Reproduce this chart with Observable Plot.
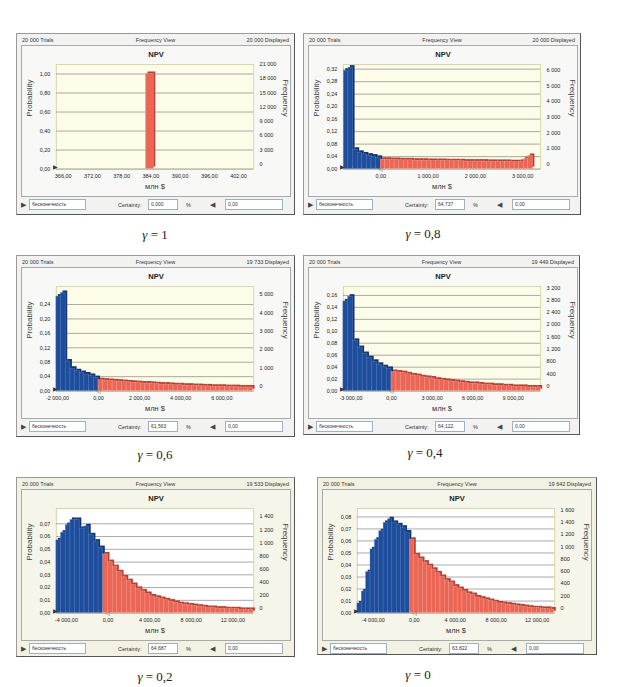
<!DOCTYPE html>
<html><head><meta charset="utf-8">
<script src="https://cdn.jsdelivr.net/npm/d3@7"></script>
<script src="https://cdn.jsdelivr.net/npm/@observablehq/plot@0.6"></script>
<style>
body{margin:0;background:#fff;width:629px;height:687px;position:relative;overflow:hidden;font-family:"Liberation Sans",Arial,sans-serif;}
.panel{position:absolute;background:#f2f2f0;border:1px solid #9a9a9a;border-right-color:#555;border-bottom-color:#555;box-sizing:border-box;}
.hdr{position:absolute;top:3px;font-size:5.5px;color:#333;white-space:nowrap;line-height:6px;}
.inner{position:absolute;left:4px;top:11px;width:270px;height:152px;border:1px solid #a9a9a9;background:#f8f8f6;box-sizing:border-box;}
.npv{position:absolute;left:0;right:0;top:5px;text-align:center;font-weight:bold;font-size:7.5px;color:#222;line-height:8px;}
.plot{position:absolute;left:0;top:14px;}
.row{position:absolute;font-size:5.5px;color:#333;white-space:nowrap;line-height:10px;top:166px;}
.box{position:absolute;top:165px;height:11px;border:1px solid #9db0c4;background:#fff;box-sizing:border-box;font-size:5px;line-height:9px;padding-left:2px;color:#333;}
.cap{position:absolute;transform:translate(-50%,-50%);font-family:"Liberation Serif","DejaVu Serif",serif;font-size:13px;color:#222;white-space:nowrap;}
.cap i{font-style:italic;}
</style></head>
<body>
<script>
// ---- data ----
const gammaLabels = ["1", "0,8", "0,6", "0,4", "0,2", "0"];
const trials = [20000, 20000, 20000, 20000, 20000, 20000];
const displayed = [20000, 20000, 19733, 19449, 19533, 19642];
const certainty = ["0,000", "64,737", "61,563", "64,122", "64,687", "63,822"];
const leftBound = "бесконечность";
const rightBound = "0,00";

const binStart = [383.0, -780, -2052, -3560, -4960, -5550];
const binWidth = [1.6, 97.5, 228, 356, 451, 427];

const probsG10 = [1.0];
const probsG08 = [0.315, 0.325, 0.062, 0.052, 0.047, 0.043, 0.040, 0.036,
  0.030, 0.030, 0.029, 0.029, 0.028, 0.028, 0.028, 0.027, 0.027, 0.027, 0.026, 0.026, 0.026, 0.026,
  0.025, 0.025, 0.025, 0.025, 0.024, 0.024, 0.024, 0.024, 0.024, 0.023, 0.023, 0.023, 0.023, 0.023,
  0.022, 0.022, 0.023, 0.032, 0.042];
const probsG06 = [0.262, 0.272, 0.082, 0.062, 0.055, 0.050, 0.046, 0.042, 0.036,
  0.030, 0.029, 0.028, 0.027, 0.026, 0.025, 0.024, 0.023, 0.022, 0.021, 0.021, 0.020, 0.019, 0.018,
  0.018, 0.017, 0.016, 0.016, 0.015, 0.015, 0.014, 0.014, 0.013, 0.013, 0.012, 0.012, 0.012, 0.011,
  0.011, 0.011, 0.010, 0.010, 0.010];
const probsG04 = [0.150, 0.158, 0.084, 0.072, 0.062, 0.055, 0.049, 0.044, 0.040, 0.037,
  0.032, 0.031, 0.030, 0.028, 0.026, 0.025, 0.023, 0.022, 0.021, 0.019, 0.018, 0.017, 0.016, 0.015,
  0.014, 0.013, 0.012, 0.012, 0.011, 0.010, 0.010, 0.009, 0.009, 0.008, 0.008, 0.007, 0.007, 0.007,
  0.006, 0.006, 0.006];
const probsG02 = [0.057, 0.063, 0.069, 0.073, 0.073, 0.066, 0.068, 0.061, 0.056, 0.051, 0.046,
  0.040, 0.036, 0.032, 0.028, 0.025, 0.022, 0.019, 0.017, 0.015, 0.013, 0.012, 0.011, 0.010, 0.009,
  0.008, 0.007, 0.0065, 0.006, 0.0055, 0.005, 0.0045, 0.004, 0.004, 0.0035, 0.0035, 0.003, 0.003,
  0.003, 0.0025, 0.0025, 0.0025];
const probsG00 = [0.008, 0.018, 0.034, 0.053, 0.061, 0.068, 0.075, 0.078, 0.075, 0.073, 0.071, 0.067, 0.061,
  0.048, 0.045, 0.042, 0.039, 0.036, 0.033, 0.030, 0.027, 0.025, 0.022, 0.020, 0.018, 0.016, 0.015,
  0.013, 0.012, 0.011, 0.010, 0.009, 0.008, 0.0075, 0.007, 0.0065, 0.006, 0.0055, 0.005, 0.0045,
  0.004, 0.004, 0.0035, 0.0035, 0.003];
const probs = [probsG10, probsG08, probsG06, probsG04, probsG02, probsG00];

const xTicks = [
  [366, 372, 378, 384, 390, 396, 402],
  [0, 1000, 2000, 3000],
  [-2000, 0, 2000, 4000, 6000],
  [-3000, 0, 3000, 6000, 9000],
  [-4000, 0, 4000, 8000, 12000],
  [-4000, 0, 4000, 8000, 12000]
];
const probTicks = [
  [0, 0.2, 0.4, 0.6, 0.8, 1.0],
  [0, 0.04, 0.08, 0.12, 0.16, 0.20, 0.24, 0.28, 0.32],
  [0, 0.04, 0.08, 0.12, 0.16, 0.20, 0.24],
  [0, 0.02, 0.04, 0.06, 0.08, 0.10, 0.12, 0.14, 0.16],
  [0, 0.01, 0.02, 0.03, 0.04, 0.05, 0.06, 0.07],
  [0, 0.01, 0.02, 0.03, 0.04, 0.05, 0.06, 0.07, 0.08]
];
const freqTicks = [
  [0, 3000, 6000, 9000, 12000, 15000, 18000, 21000],
  [0, 1000, 2000, 3000, 4000, 5000, 6000],
  [0, 1000, 2000, 3000, 4000, 5000],
  [0, 400, 800, 1200, 1600, 2000, 2400, 2800, 3200],
  [0, 200, 400, 600, 800, 1000, 1200, 1400],
  [0, 200, 400, 600, 800, 1000, 1200, 1400, 1600]
];
const xDomains = [[364.6, 405.1], [-790, 3380], [-2052, 7550], [-3560, 11030], [-4960, 14000], [-5550, 13700]];
const yMax = [1.1, 0.335, 0.29, 0.175, 0.082, 0.087];

// ---- layout ----
const layout = [
  {left: 16, top: 33, w: 279, h: 182, cx: 155, cy: 235, tint: false},
  {left: 303, top: 33, w: 278, h: 182, cx: 423, cy: 234, tint: false},
  {left: 16, top: 255, w: 279, h: 182, cx: 155, cy: 455, tint: false},
  {left: 303, top: 255, w: 277, h: 180, cx: 425, cy: 453, tint: false},
  {left: 16, top: 477, w: 279, h: 180, cx: 155, cy: 677, tint: true},
  {left: 317, top: 477, w: 280, h: 178, cx: 418, cy: 675, tint: true}
];

const ru = d3.formatLocale({decimal: ",", thousands: "\u00a0", grouping: [3], currency: ["", ""], minus: "-"});
const fmtX = ru.format(",.2f");
const fmtP = ru.format(".2f");
const fmtF = ru.format(",d");

const BLUE = "#1e4d9c", BLUE_SIDE = "#12346f", BLUE_EDGE = "#5f86c6";
const RED = "#ec6656", RED_SIDE = "#b93f31", RED_EDGE = "#f6a99e";

function chart(i, tint) {
  const N = displayed[i];
  const bins = probs[i].map((p, k) => {
    const a = binStart[i] + k * binWidth[i];
    const b = a + binWidth[i];
    return {a, b, p, neg: b <= 1e-6};
  });
  const marks = [
    Plot.frame({fill: tint ? "#ffffff" : "#fcfce9", stroke: "#d9d9a6"}),
    Plot.gridY({ticks: probTicks[i], stroke: "#9b9b9b", strokeOpacity: 0.85}),
    Plot.rectY(bins, {x1: "a", x2: "b", y: "p", dx: 2, dy: -2, fill: d => d.neg ? BLUE_SIDE : RED_SIDE}),
    Plot.rectY(bins, {x1: "a", x2: "b", y: "p", fill: d => d.neg ? BLUE : RED,
      stroke: d => d.neg ? BLUE_EDGE : RED_EDGE, strokeWidth: 0.4}),
    Plot.axisX({ticks: xTicks[i], tickSize: 0, tickPadding: 5, tickFormat: fmtX, label: null}),
    Plot.axisY({ticks: probTicks[i], tickSize: 0, tickPadding: 6, tickFormat: fmtP, label: null}),
    Plot.axisY({anchor: "right", ticks: freqTicks[i].map(f => f / N), tickSize: 0, tickPadding: 6, dy: -5,
      tickFormat: d => fmtF(Math.round(d * N)), label: null}),
    Plot.text(["млн $"], {frameAnchor: "bottom", dy: 20, fontSize: 7.5, fill: "#333"}),
    Plot.text(["Probability"], {frameAnchor: "left", dx: -27, rotate: -90, fontSize: 8, fill: "#444"}),
    Plot.text(["Frequency"], {frameAnchor: "right", dx: 32, rotate: 90, fontSize: 8, fill: "#444"}),
    Plot.text(["▶"], {frameAnchor: "bottom-left", dx: -3, dy: 0, fontSize: 6, fill: "#333"})
  ];
  if (xDomains[i][0] < 0) {
    marks.push(Plot.text([0], {x: d => d, frameAnchor: "bottom", text: () => "◁", dy: 2, fontSize: 6, fill: "#666"}));
  }
  return Plot.plot({
    width: 269, height: 138,
    marginLeft: 34, marginRight: 37, marginTop: 4, marginBottom: 29,
    style: {fontFamily: "'Liberation Sans', Arial, sans-serif", fontSize: "5.5px", color: "#222", background: "transparent", overflow: "visible"},
    x: {domain: xDomains[i]},
    y: {domain: [0, yMax[i]]},
    marks
  });
}

function el(tag, cls, parent, style, text) {
  const e = document.createElement(tag);
  if (cls) e.className = cls;
  if (style) Object.assign(e.style, style);
  if (text != null) e.textContent = text;
  parent.appendChild(e);
  return e;
}

layout.forEach((L, i) => {
  const p = el("div", "panel", document.body, {left: L.left + "px", top: L.top + "px", width: L.w + "px", height: L.h + "px",
    background: L.tint ? "#f3f1e1" : "#f2f2f0"});
  el("div", "hdr", p, {left: "5px"}, fmtF(trials[i]) + " Trials");
  el("div", "hdr", p, {left: "0", right: "0", textAlign: "center"}, "Frequency View");
  el("div", "hdr", p, {right: "5px"}, fmtF(displayed[i]) + " Displayed");
  const inner = el("div", "inner", p, {background: L.tint ? "#f6f5e9" : "#f8f8f6"});
  el("div", "npv", inner, null, "NPV");
  const holder = el("div", "plot", inner);
  holder.appendChild(chart(i, L.tint));
  el("div", "row", p, {left: "4px", fontSize: "7px", color: "#444"}, "▶");
  el("div", "box", p, {left: "12px", width: "57px"}, leftBound);
  el("div", "row", p, {left: "101px"}, "Certainty:");
  el("div", "box", p, {left: "131px", width: "30px"}, certainty[i]);
  el("div", "row", p, {left: "169px"}, "%");
  el("div", "row", p, {left: "193px", fontSize: "7px", color: "#444"}, "◀");
  el("div", "box", p, {left: "208px", width: "58px"}, rightBound);
  const cap = el("div", "cap", document.body, {left: L.cx + "px", top: L.cy + "px"});
  cap.innerHTML = "<i>γ</i> = " + gammaLabels[i];
});
</script>
</body></html>
